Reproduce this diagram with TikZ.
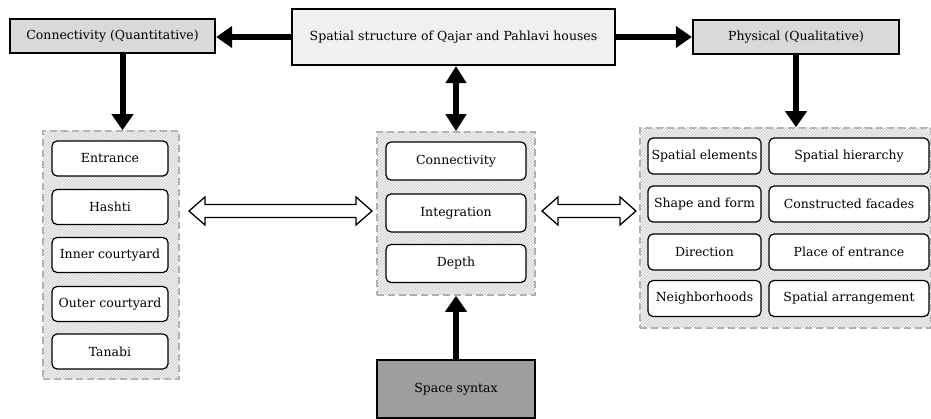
\documentclass[tikz,border=0pt]{standalone}
\usepackage{fontspec}
\setmainfont{DejaVu Serif}
\usetikzlibrary{patterns,arrows.meta,calc}
\begin{document}
\begin{tikzpicture}[x=1pt,y=-1pt,
  every node/.style={font=\fontsize{12.5}{14}\selectfont, inner sep=0pt},
  topbox/.style={draw, line width=2.2pt, fill=#1},
  itembox/.style={draw, line width=1.2pt, rounded corners=5pt, fill=white},
  groupbox/.style={draw=gray!65, line width=1.6pt, dash pattern=on 7pt off 4pt, fill=gray!10,
    postaction={pattern=north east lines, pattern color=gray!45}},
  bigarrow/.style={line width=6pt, -{Triangle[length=16pt,width=21pt]}},
  bigdarrow/.style={line width=6pt, {Triangle[length=17pt,width=20pt]}-{Triangle[length=17pt,width=20pt]}},
  hollow/.style={draw, line width=1.3pt, fill=white, line join=miter}
]
\useasboundingbox (0,0) rectangle (931,419);

% top boxes
\node[topbox=gray!30, minimum width=205pt, minimum height=34pt] (conn) at (112.5,36) {Connectivity (Quantitative)};
\node[topbox=gray!12, minimum width=323pt, minimum height=56pt] (spat) at (453.5,37) {Spatial structure of Qajar and Pahlavi houses};
\node[topbox=gray!30, minimum width=206pt, minimum height=34pt] (phys) at (796,37) {Physical (Qualitative)};

% groups
\node[groupbox, minimum width=136pt, minimum height=248pt] (lg) at (111,255) {};
\node[groupbox, minimum width=158pt, minimum height=163pt] (cg) at (456,213.5) {};
\node[groupbox, minimum width=291pt, minimum height=200pt] (rg) at (785.5,228) {};

% left items
\foreach \t/\y/\n in {Entrance/158.5/l1, Hashti/207/l2, Inner courtyard/255/l3, Outer courtyard/304/l4, Tanabi/351.5/l5}
  \node[itembox, minimum width=116pt, minimum height=35pt] (\n) at (110,\y) {\t};

% center items
\foreach \t/\y/\n in {Connectivity/161/c1, Integration/213/c2, Depth/263.5/c3}
  \node[itembox, minimum width=140pt, minimum height=38pt] (\n) at (456,\y) {\t};

% right items
\foreach \t/\y/\n in {Spatial elements/156/r1, Shape and form/204/r2, Direction/252/r3, Neighborhoods/298.5/r4}
  \node[itembox, minimum width=113pt, minimum height=36pt] (\n) at (704.5,\y) {\t};
\foreach \t/\y/\n in {Spatial hierarchy/156/s1, Constructed facades/204/s2, Place of entrance/252/s3, Spatial arrangement/298.5/s4}
  \node[itembox, minimum width=160pt, minimum height=36pt] (\n) at (849,\y) {\t};

% space syntax
\node[topbox=black!38, minimum width=158pt, minimum height=58pt] (ss) at (456,389) {Space syntax};

% arrows
\draw[bigarrow] (spat.west) -- (spat.west -| conn.east);
\draw[bigarrow] (spat.east) -- (spat.east -| phys.west);
\draw[bigarrow] ([xshift=10pt]conn.south) -- ([xshift=10pt]conn.south |- lg.north);
\draw[bigarrow] (phys.south) -- (phys.south |- rg.north);
\draw[bigdarrow] (cg.north |- spat.south) -- (cg.north);
\draw[bigarrow] (ss.north) -- (cg.south);

% hollow double arrows
\coordinate (la) at (189,211);
\coordinate (lb) at (372,211);
\coordinate (ra) at (542,211);
\coordinate (rb) at (636,211);
\foreach \a/\b in {la/lb, ra/rb}
  \draw[hollow] (\a) -- ($(\a)+(16,-14)$) -- ($(\a)+(16,-6.5)$) -- ($(\b)+(-16,-6.5)$) -- ($(\b)+(-16,-14)$) -- (\b)
    -- ($(\b)+(-16,14)$) -- ($(\b)+(-16,6.5)$) -- ($(\a)+(16,6.5)$) -- ($(\a)+(16,14)$) -- cycle;
\end{tikzpicture}
\end{document}
